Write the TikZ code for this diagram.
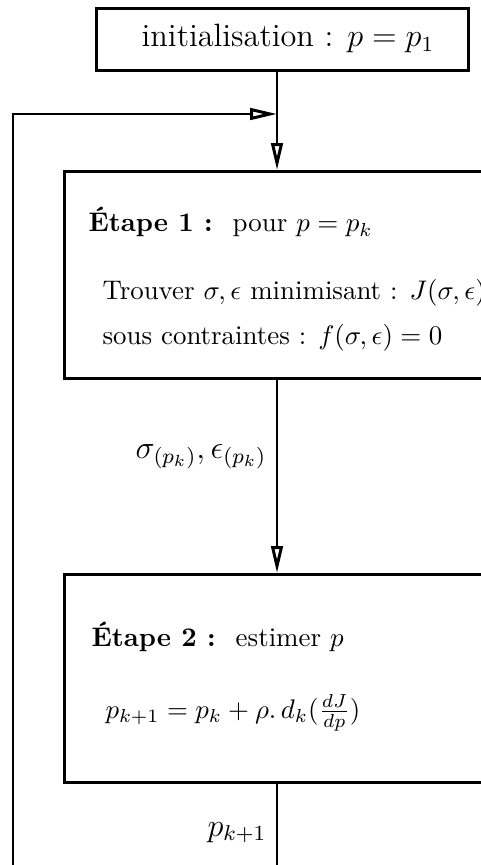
\documentclass[tikz,border=0pt]{standalone}
\usetikzlibrary{arrows.meta}
\begin{document}
\begin{tikzpicture}[x=0.3717pt,y=-0.3717pt,
  lw/.style={line width=1.1pt},
  box/.style={draw,lw,rectangle,inner sep=0pt,anchor=north west},
  arr/.style={lw,-{Triangle[open,length=10pt,width=4.3pt]}},
  plain/.style={lw},
  txt/.style={anchor=base west,inner sep=0pt}]
\useasboundingbox (0,0) rectangle (481,865);
\clip (0,0) rectangle (481,865);
% boxes
\node[box,minimum width={372*0.3717pt},minimum height={62*0.3717pt}] (init) at (95,7) {};
\node[box,minimum width={428*0.3717pt},minimum height={207*0.3717pt}] (box1) at (63,170) {};
\node[box,minimum width={428*0.3717pt},minimum height={208*0.3717pt}] (box2) at (63,573) {};
% texts
\node[anchor=base,inner sep=0pt] (tinit) at (288,47) {\large initialisation : $p=p_1$};
\node[txt] (e1) at (88,232) {\textbf{Étape 1 :}\hspace{7.4pt}pour $p=p_k$};
\node[txt] (e1a) at (102,300) {Trouver $\sigma,\epsilon$ minimisant : $J(\sigma,\epsilon)$};
\node[txt] (e1b) at (102,345) {sous contraintes : $f(\sigma,\epsilon)=0$};
\node[txt] (e2) at (91,646) {\textbf{Étape 2 :}\hspace{7.4pt}estimer $p$};
\node[txt] (e2a) at (105,718) {$p_{k+1}=p_k+\rho.\,d_k(\frac{dJ}{dp})$};
\node[txt] (l1) at (135,458) {\large $\sigma_{(p_k)},\epsilon_{(p_k)}$};
\node[txt] (l2) at (207,836) {\large $p_{k+1}$};
% coordinates
\coordinate (ctr) at (277,0);
\coordinate (join) at (277,114);
\coordinate (corner) at (13,114);
\coordinate (loopbot) at (13,880);
\coordinate (outbot) at (277,880);
% connectors
\draw[plain] (init.south -| ctr) -- (join);
\draw[arr] (join) -- (box1.north -| ctr);
\draw[arr] (loopbot) -- (corner) -- (join);
\draw[arr] (box1.south -| ctr) -- (box2.north -| ctr);
\draw[plain] (box2.south -| ctr) -- (outbot);
\end{tikzpicture}
\end{document}
